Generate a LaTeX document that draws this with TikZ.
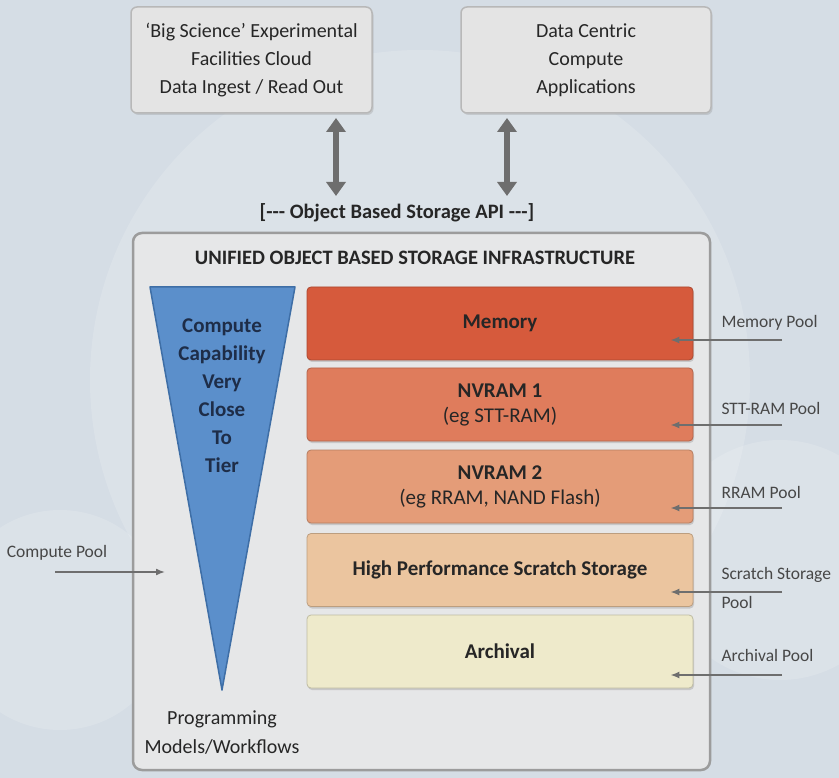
\documentclass[tikz,border=0pt]{standalone}
\usepackage{fontspec}
\setmainfont{Carlito}
\usetikzlibrary{arrows.meta,shadows}
\definecolor{bgcol}{HTML}{D5DDE5}
\definecolor{boxfill}{HTML}{E4E4E4}
\definecolor{boxline}{HTML}{B8B8B8}
\definecolor{mainfill}{HTML}{E6E7E8}
\definecolor{mainline}{HTML}{9C9C9C}
\definecolor{arrgray}{HTML}{6E6E6E}
\definecolor{txt}{HTML}{262626}
\definecolor{navy}{HTML}{1E2D48}
\definecolor{trifill}{HTML}{5B8FCB}
\definecolor{triline}{HTML}{3E6EA6}
\definecolor{memcol}{HTML}{D65A3C}
\definecolor{nv1col}{HTML}{DF7C5C}
\definecolor{nv2col}{HTML}{E49C78}
\definecolor{hpcol}{HTML}{EBC59F}
\definecolor{arcol}{HTML}{EEEACB}
\begin{document}
\begin{tikzpicture}[x=1pt,y=-1pt,
  topbox/.style={draw=boxline, line width=1.5pt, fill=boxfill, rounded corners=6pt,
    align=center, text=txt, font=\fontsize{20}{28}\selectfont,
    drop shadow={shadow xshift=1.5pt, shadow yshift=-2pt, opacity=0.25}},
  tier/.style={draw=#1!80!black, line width=0.8pt, fill=#1, rounded corners=4pt,
    minimum width=386pt, minimum height=73pt, align=center, text=txt,
    font=\bfseries\fontsize{21}{25}\selectfont,
    drop shadow={shadow xshift=1pt, shadow yshift=-2pt, opacity=0.3}},
  pool/.style={anchor=west, text=txt!85, font=\fontsize{17.5}{29}\selectfont, align=left},
  bigarrow/.style={arrgray, line width=6pt, {Triangle[width=19pt,length=14pt]}-{Triangle[width=19pt,length=14pt]}},
  poolarrow/.style={arrgray, line width=1.6pt, -{Latex[length=9pt,width=7pt]}},
  tritext/.style={text=navy, font=\bfseries\fontsize{21}{28}\selectfont, align=center}
]
\useasboundingbox (0,0) rectangle (839,778);
\fill[bgcol] (0,0) rectangle (839,778);
\fill[white, opacity=0.15] (420,380) circle (330pt);
\fill[white, opacity=0.15] (60,620) circle (110pt);
\fill[white, opacity=0.15] (780,560) circle (120pt);

% top boxes
\node[topbox, minimum width=241pt, minimum height=106pt] (big) at (251.5,60)
  {`Big Science' Experimental\\Facilities Cloud\\Data Ingest / Read Out};
\node[topbox, minimum width=250pt, minimum height=106pt] (dcc) at (586,60)
  {Data Centric\\Compute\\Applications};

% API label
\node[text=txt, font=\bfseries\fontsize{20.5}{24}\selectfont] (api) at (397,213)
  {[-{}-{}- Object Based Storage API -{}-{}-]};

% arrows
\coordinate (a1t) at (336,118);
\coordinate (a1b) at (336,196);
\coordinate (a2t) at (507,118);
\coordinate (a2b) at (507,196);
\draw[bigarrow] (a1t) -- (a1b);
\draw[bigarrow] (a2t) -- (a2b);

% main box
\node[draw=mainline, line width=2.5pt, fill=mainfill, rounded corners=9pt,
  minimum width=577pt, minimum height=537pt] (main) at (421.5,501.5) {};
\node[text=txt, font=\bfseries\fontsize{20.5}{24}\selectfont] (title) at (415,258)
  {UNIFIED OBJECT BASED STORAGE INFRASTRUCTURE};

% triangle
\coordinate (tl) at (150,287);
\coordinate (tr) at (295,287);
\coordinate (tb) at (222,690);
\draw[fill=trifill, draw=triline, line width=1.5pt, line join=round] (tl) -- (tr) -- (tb) -- cycle;
\node[tritext] (cap) at (222,396)
  {Compute\\Capability\\Very\\Close\\To\\Tier};
\node[text=txt, font=\fontsize{20}{29}\selectfont, align=center] (prog) at (222,733)
  {Programming\\Models/Workflows};

% tiers
\node[tier=memcol] (mem) at (500,323.5) {Memory};
\node[tier=nv1col] (nv1) at (500,404.5) {NVRAM 1\\\mdseries(eg STT-RAM)};
\node[tier=nv2col] (nv2) at (500,486.5) {NVRAM 2\\\mdseries(eg RRAM, NAND Flash)};
\node[tier=hpcol] (hps) at (500,570) {High Performance Scratch Storage};
\node[tier=arcol] (arc) at (500,651.5) {Archival};

% pool labels
\node[pool] (pmem) at (718,323) {Memory Pool};
\node[pool] (pstt) at (718,408) {STT-RAM Pool};
\node[pool] (prr) at (718,492) {RRAM Pool};
\node[pool] (psc) at (718,588) {Scratch Storage\\Pool};
\node[pool] (par) at (718,655) {Archival Pool};

\coordinate (emem) at (782,340);
\coordinate (estt) at (782,425);
\coordinate (err) at (782,508);
\coordinate (esc) at (782,592);
\coordinate (ear) at (782,675);
\draw[poolarrow] (emem) -- ([xshift=-23pt]emem -| mem.east);
\draw[poolarrow] (estt) -- ([xshift=-23pt]estt -| nv1.east);
\draw[poolarrow] (err) -- ([xshift=-23pt]err -| nv2.east);
\draw[poolarrow] (esc) -- ([xshift=-23pt]esc -| hps.east);
\draw[poolarrow] (ear) -- ([xshift=-23pt]ear -| arc.east);

% compute pool
\node[text=txt!85, font=\fontsize{17.5}{22}\selectfont] (pcomp) at (57,553) {Compute Pool};
\coordinate (cs) at (55,572);
\coordinate (ce) at (165,572);
\draw[poolarrow] (cs) -- (ce);
\end{tikzpicture}
\end{document}
